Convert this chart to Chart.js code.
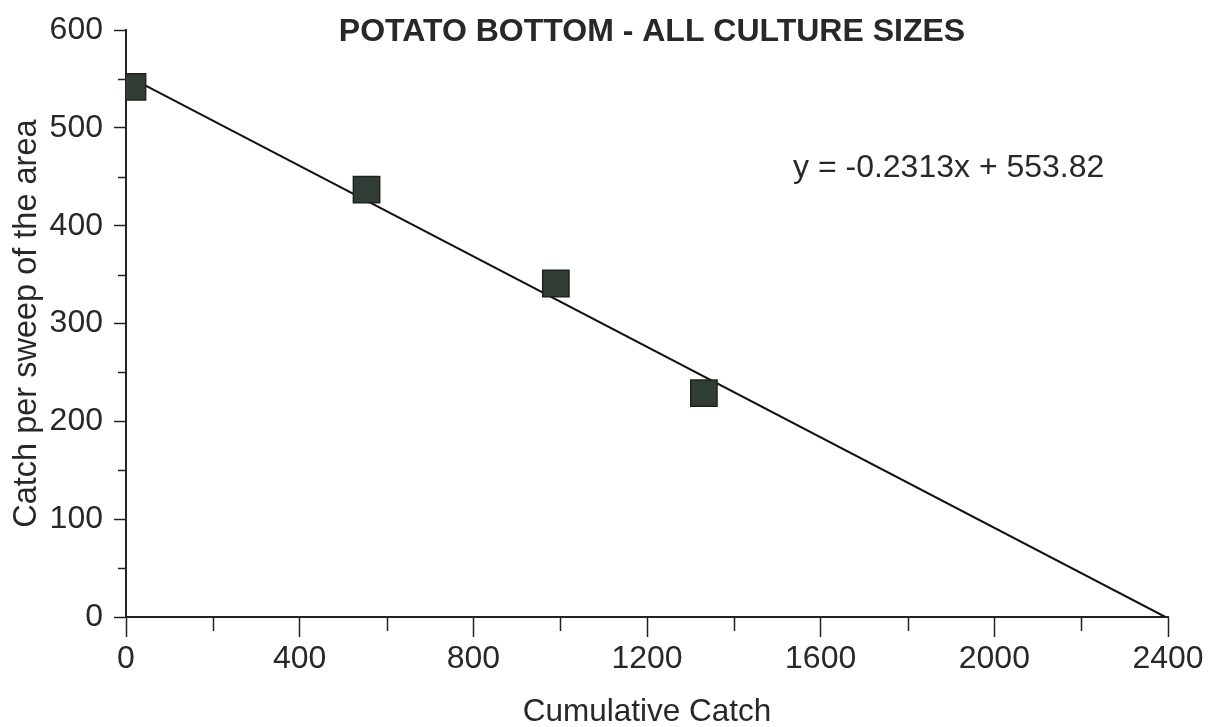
<!DOCTYPE html>
<html>
<head>
<meta charset="utf-8">
<script src="https://cdn.jsdelivr.net/npm/chart.js@4.4.1/dist/chart.umd.min.js"></script>
<style>
  html, body { margin: 0; padding: 0; background: #fff; }
  #wrap { width: 1208px; height: 727px; position: relative; }
</style>
</head>
<body>
<div id="wrap"><canvas id="chart"></canvas></div>
<script>
const chartTitle = 'POTATO BOTTOM - ALL CULTURE SIZES';
const equationText = 'y = -0.2313x + 553.82';

// observed catches
const cumulativeCatch = [15, 554, 990, 1331];
const catchPerSweep = [542, 437, 341, 229];

// fitted line end points
const trendX = [0, 2394];
const trendY = [553.82, 0];

const textColor = '#282828';
const fontFamily = "'Liberation Sans', Arial, sans-serif";

const toPoints = (xs, ys) => xs.map((x, i) => ({ x: x, y: ys[i] }));

// draws the short minor ticks that chart.js has no option for
const minorTicks = {
  id: 'minorTicks',
  afterDraw(chart) {
    const { ctx, chartArea } = chart;
    const xs = chart.scales.x;
    const ys = chart.scales.y;
    ctx.save();
    ctx.strokeStyle = '#222';
    ctx.lineWidth = 1.5;
    ctx.beginPath();
    xs.ticks.filter(t => t.value % 400 !== 0).forEach(t => {
      const px = Math.round(xs.getPixelForValue(t.value)) + 0.5;
      ctx.moveTo(px, chartArea.bottom);
      ctx.lineTo(px, chartArea.bottom + 14);
    });
    ys.ticks.filter(t => t.value % 100 !== 0).forEach(t => {
      const py = Math.round(ys.getPixelForValue(t.value)) + 0.5;
      ctx.moveTo(chartArea.left, py);
      ctx.lineTo(chartArea.left - 8, py);
    });
    ctx.stroke();
    ctx.restore();
  }
};

const labels = {
  id: 'labels',
  afterDraw(chart) {
    const { ctx } = chart;
    ctx.save();
    ctx.fillStyle = textColor;
    ctx.textBaseline = 'alphabetic';
    ctx.font = 'bold 32px ' + fontFamily;
    ctx.textAlign = 'center';
    ctx.fillText(chartTitle, 652, 41);
    ctx.font = '32px ' + fontFamily;
    ctx.textAlign = 'left';
    ctx.fillText(equationText, 793, 177);
    ctx.restore();
  }
};

const majorOnly = (step) => (ctx) => ctx.tick.value % step === 0 ? '#222' : 'rgba(0,0,0,0)';

new Chart(document.getElementById('chart'), {
  data: {
    datasets: [{
      type: 'scatter',
      data: toPoints(cumulativeCatch, catchPerSweep),
      pointStyle: 'rect',
      pointRadius: 18.6,
      pointHoverRadius: 18.6,
      backgroundColor: '#313c35',
      borderColor: '#1d241f',
      borderWidth: 1.5
    }, {
      type: 'line',
      data: toPoints(trendX, trendY),
      borderColor: '#111',
      borderWidth: 2,
      pointRadius: 0,
      fill: false
    }]
  },
  plugins: [minorTicks, labels],
  options: {
    responsive: true,
    maintainAspectRatio: false,
    animation: false,
    layout: {
      padding: { top: 30, right: 40, left: 0, bottom: 0 }
    },
    plugins: {
      legend: { display: false },
      title: { display: false },
      tooltip: { enabled: false }
    },
    scales: {
      x: {
        type: 'linear',
        min: 0,
        max: 2400,
        afterFit: s => { s.height = 110; },
        border: { display: true, color: '#222', width: 2 },
        grid: {
          drawOnChartArea: false,
          drawTicks: true,
          tickLength: 20,
          tickWidth: 1.5,
          tickColor: majorOnly(400)
        },
        ticks: {
          stepSize: 200,
          padding: 3,
          maxRotation: 0,
          autoSkip: false,
          color: textColor,
          font: { family: fontFamily, size: 32 },
          callback: v => v % 400 === 0 ? String(v) : ''
        },
        title: {
          display: true,
          text: 'Cumulative Catch',
          color: textColor,
          font: { family: fontFamily, size: 31.5, lineHeight: 0.95 },
          padding: { top: 0, bottom: 0 }
        }
      },
      y: {
        type: 'linear',
        min: 0,
        max: 600,
        afterFit: s => { s.width = 126; },
        border: { display: true, color: '#222', width: 2 },
        grid: {
          drawOnChartArea: false,
          drawTicks: true,
          tickLength: 12,
          tickWidth: 1.5,
          tickColor: majorOnly(100)
        },
        ticks: {
          stepSize: 50,
          padding: 11,
          autoSkip: false,
          color: textColor,
          font: { family: fontFamily, size: 32 },
          callback: v => v % 100 === 0 ? String(v) : ''
        },
        title: {
          display: true,
          text: 'Catch per sweep of the area',
          color: textColor,
          font: { family: fontFamily, size: 32.5 },
          padding: { top: 8, bottom: 0 }
        }
      }
    }
  }
});
</script>
</body>
</html>
